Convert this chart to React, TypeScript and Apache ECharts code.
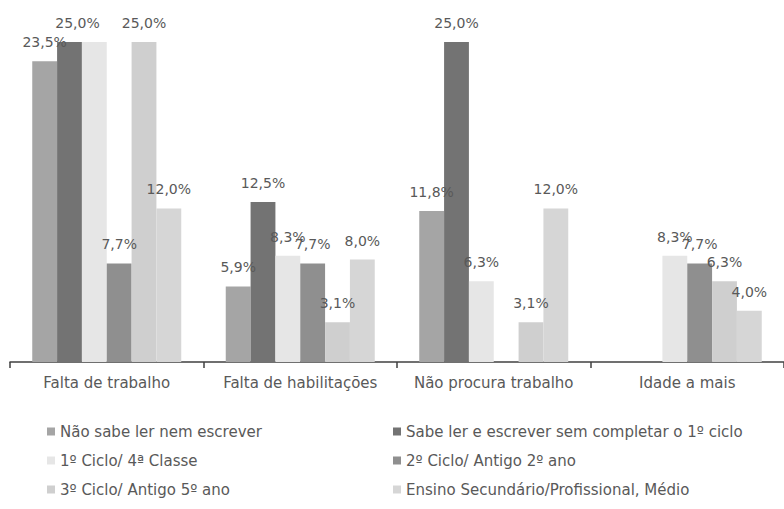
import React, { useEffect, useRef } from "react";
import * as echarts from "echarts";

// Motivos de desemprego por nível de escolaridade (%)
const categories = [
  "Falta de trabalho",
  "Falta de habilitações",
  "Não procura trabalho",
  "Idade a mais",
];

const seriesNames = [
  "Não sabe ler nem escrever",
  "Sabe ler e escrever sem completar o 1º ciclo",
  "1º Ciclo/ 4ª Classe",
  "2º Ciclo/ Antigo 2º ano",
  "3º Ciclo/ Antigo 5º ano",
  "Ensino Secundário/Profissional, Médio",
];

const naoSabeLer = [23.5, 5.9, 11.8, null];
const sabeLer = [25.0, 12.5, 25.0, null];
const primeiroCiclo = [25.0, 8.3, 6.3, 8.3];
const segundoCiclo = [7.7, 7.7, null, 7.7];
const terceiroCiclo = [25.0, 3.1, 3.1, 6.3];
const secundario = [12.0, 8.0, 12.0, 4.0];

// value labels that are not printed (category index per series)
const hiddenLabels: Record<number, number[]> = { 2: [0] };
// value labels nudged sideways so they clear a neighbour (series -> category -> dx)
const labelShift: Record<number, Record<number, number>> = { 1: { 0: 8 } };

const seriesValues = [
  naoSabeLer,
  sabeLer,
  primeiroCiclo,
  segundoCiclo,
  terceiroCiclo,
  secundario,
];

const colors = ["#a5a5a5", "#737373", "#e6e6e6", "#8f8f8f", "#cfcfcf", "#d6d6d6"];

const FONT = "DejaVu Sans";
const TEXT = "#595959";

export default function App() {
  const ref = useRef<HTMLDivElement>(null);

  useEffect(() => {
    if (!ref.current) return;
    const chart = echarts.init(ref.current, null, { renderer: "svg" });

    const series = seriesValues.map((vals, si) => ({
      name: seriesNames[si],
      type: "bar",
      barGap: "0%",
      barCategoryGap: "23%",
      itemStyle: { color: colors[si] },
      label: {
        show: true,
        position: "top",
        distance: 12,
        color: TEXT,
        fontFamily: FONT,
        fontSize: 14,
        formatter: (p: any) => p.value.toFixed(1).replace(".", ",") + "%",
      },
      data: vals.map((v, ci) => {
        if ((hiddenLabels[si] || []).includes(ci)) {
          return { value: v, label: { show: false } };
        }
        const dx = labelShift[si]?.[ci];
        if (dx) return { value: v, label: { offset: [dx, 0] } };
        return v;
      }),
    }));

    const legendCommon = {
      orient: "vertical",
      icon: "rect",
      itemWidth: 8,
      itemHeight: 8,
      itemGap: 14,
      textStyle: { color: TEXT, fontFamily: FONT, fontSize: 15 },
      top: 419,
    };

    chart.setOption({
      animation: false,
      color: colors,
      grid: { left: 10, top: 42, width: 776, height: 320 },
      legend: [
        {
          ...legendCommon,
          left: 42,
          data: [seriesNames[0], seriesNames[2], seriesNames[4]],
        },
        {
          ...legendCommon,
          left: 388,
          data: [seriesNames[1], seriesNames[3], seriesNames[5]],
        },
      ],
      xAxis: {
        type: "category",
        data: categories,
        axisLine: { lineStyle: { color: "#404040", width: 1.5 } },
        axisTick: { show: true, length: 6, lineStyle: { color: "#404040", width: 1.5 } },
        axisLabel: { interval: 0, color: TEXT, fontFamily: FONT, fontSize: 15, margin: 13 },
      },
      yAxis: {
        type: "value",
        min: 0,
        max: 25,
        show: false,
        splitLine: { show: false },
      },
      series,
    });

    return () => chart.dispose();
  }, []);

  return (
    <div
      ref={ref}
      style={{ position: "fixed", left: 0, top: 0, width: 784, height: 509, background: "#fff" }}
    />
  );
}
